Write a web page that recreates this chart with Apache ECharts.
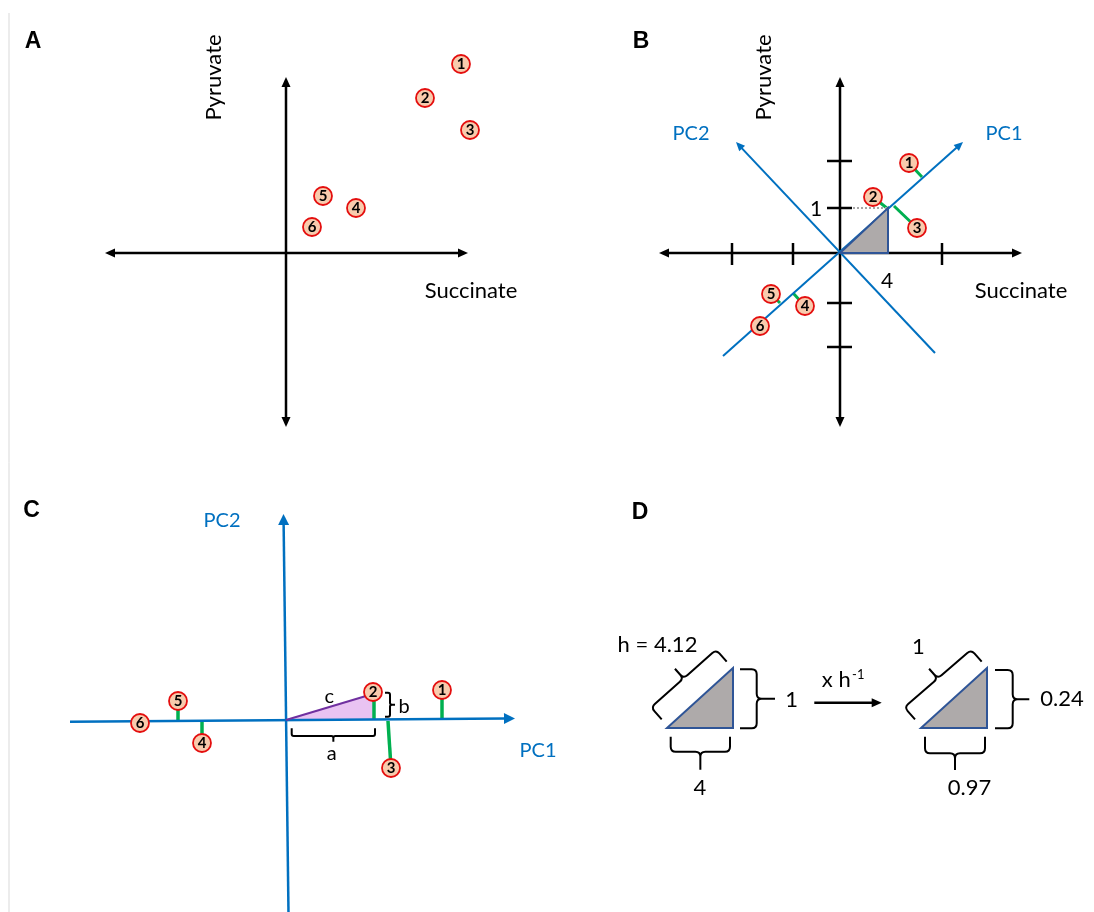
<!DOCTYPE html>
<html><head><meta charset="utf-8">
<script src="https://cdn.jsdelivr.net/npm/echarts@6/dist/echarts.min.js"></script>
<style>html,body{margin:0;padding:0;background:#fff}#c{width:1094px;height:912px}</style>
</head><body><div id="c"></div>
<script>
// ---------- data (schematic values, panel-local units, y up) ----------
const pointLabels = ['1','2','3','4','5','6'];
const panelLetters = ['A','B','C','D'];
const axisTitles = ['Succinate','Pyruvate'];
const pcTitles = ['PC1','PC2'];
// Panel A: raw data (Succinate, Pyruvate)
const aSuccinate = [175, 139, 184, 70, 37, 26];
const aPyruvate  = [189, 155, 123, 45, 57, 26];
// Panel B: centred data
const bSuccinate = [69, 33, 77, -35, -69, -80];
const bPyruvate  = [90, 56, 25, -53, -41, -73];
const bProjections = [[69,90,82,76],[33,56,48,44],[54,47,77,25],[-47,-40,-35,-53],[-69,-41,-60,-50]];
const bTicksSuccinate = [-108, -47, 102];
const bTicksPyruvate = [92, 45, -50, -94];
const bTickLabels = ['1','4'];
const bTriangle = [[0,0],[48,0],[48,45]];
// Panel C: scores on PC1 / PC2
const cPC1 = [156, 87, 105, -84, -108, -146];
const cPC2 = [30, 28, -48, -23, 19, -3];
const cProjections = [[156,30,156,2],[88,27,88,1],[102,-1,105,-48],[-84,-1,-84,-23],[-108,19,-108,0]];
const cTriangle = [[0,0],[80,24],[88,21],[88,0.5]];
const cSideLabels = ['a','b','c'];
// Panel D: triangles and their side lengths
const dLeftTriangle = [[0,0],[66,0],[66,60]];
const dRightTriangle = [[254,0],[320,0],[320,60]];
const dLeftLabels = ['h = 4.12','1','4'];
const dRightLabels = ['1','0.24','0.97'];
const dArrowLabel = ['x h','-1'];

// ---------- styles ----------
const FONT = 'Lato, "Open Sans", "DejaVu Sans", sans-serif';
const BOLD = '"Liberation Sans", Arial, sans-serif';
const BLACK='#000', BLUE='#0070c0', GREEN='#00b050', GREYFILL='#aeaaaa', NAVY='#2f5597', PURPLE='#7030a0', LILAC='#e9c3f2';

function L(pts, color, width, o){ return Object.assign({kind:'line', pts, color, width}, o||{}); }
function Poly(pts, fill, stroke, width){ return {kind:'poly', pts, fill, stroke, width}; }
function Brace(A,B,n,d,t,r,w){ return {kind:'brace', A,B,n,d,t,r, width:w||2}; }
function T(x,y,text,o){ return Object.assign({x,y,text}, o||{}); }

const unit = v => { const l = Math.hypot(v[0],v[1]) || 1; return [v[0]/l, v[1]/l]; };

function renderShape(it, api, idx){
  const z2 = idx*10;
  if (it.kind === 'line'){
    const P = it.pts.map(p => api.coord(p));
    const kids = [];
    const head = (tip, prev) => {
      const v = unit([tip[0]-prev[0], tip[1]-prev[1]]);
      const len = it.head[0], hw = it.head[1];
      const b = [tip[0]-v[0]*len, tip[1]-v[1]*len];
      const pp = [-v[1], v[0]];
      kids.push({type:'polygon', z2:z2+1, shape:{points:[tip,[b[0]+pp[0]*hw,b[1]+pp[1]*hw],[b[0]-pp[0]*hw,b[1]-pp[1]*hw]]}, style:{fill:it.color}});
      return [b[0]+v[0]*1, b[1]+v[1]*1];
    };
    if (it.end){ const n=P.length; P[n-1] = head(P[n-1], P[n-2]); }
    if (it.start){ P[0] = head(P[0], P[1]); }
    kids.push({type:'polyline', z2, shape:{points:P}, style:{stroke:it.color, lineWidth:it.width, lineDash:it.dash||null, fill:null, lineCap:'butt'}});
    return {type:'group', children:kids};
  }
  if (it.kind === 'poly'){
    const P = it.pts.map(p => api.coord(p));
    return {type:'polygon', z2, shape:{points:P}, style:{fill:it.fill, stroke:it.stroke||null, lineWidth:it.width||0, lineJoin:'miter'}};
  }
  if (it.kind === 'brace'){
    const {A,B,n,d,t,r} = it;
    const add=(p,s)=>[p[0]+n[0]*s, p[1]+n[1]*s];
    const M=[(A[0]+B[0])/2,(A[1]+B[1])/2];
    const a=api.coord(A), b=api.coord(B), a1=api.coord(add(A,d)), b1=api.coord(add(B,d)), m1=api.coord(add(M,d)), mt=api.coord(add(M,d+t));
    const u=unit([b1[0]-a1[0], b1[1]-a1[1]]);
    const nn=unit([a1[0]-a[0], a1[1]-a[1]]);
    const s=(p,v,k)=>[p[0]+v[0]*k, p[1]+v[1]*k];
    const P=p=>p[0].toFixed(2)+' '+p[1].toFixed(2);
    const path = 'M'+P(a)+' L'+P(s(a1,nn,-r))+' Q'+P(a1)+' '+P(s(a1,u,r))+' L'+P(s(m1,u,-r))+' Q'+P(m1)+' '+P(s(m1,nn,r))+' L'+P(mt)
      +' M'+P(s(m1,nn,r))+' Q'+P(m1)+' '+P(s(m1,u,r))+' L'+P(s(b1,u,-r))+' Q'+P(b1)+' '+P(s(b1,nn,-r))+' L'+P(b);
    return {type:'path', z2, shape:{pathData:path}, style:{stroke:BLACK, lineWidth:it.width, fill:null, lineJoin:'round'}};
  }
  return null;
}

function renderText(t, api){
  const p = api.coord([t.x, t.y]);
  return {type:'text', x:p[0], y:p[1], rotation:(t.rot||0)*Math.PI/180,
    style:{text:t.text, fill:t.color||BLACK, fontSize:t.size||22, fontFamily:t.bold?BOLD:FONT,
      fontWeight:t.bold?'bold':'normal', align:t.align||'center', verticalAlign:'middle'}};
}

// ---------- panels ----------
const AXH = [10,4.5];
const LET = 23;
const shapesA = [
  L([[-277,240],[-277,-659]], '#d9d9d9', 1),
  L([[-181,0],[182,0]], BLACK, 2.5, {start:true, end:true, head:AXH}),
  L([[0,176],[0,-174]], BLACK, 2.5, {start:true, end:true, head:AXH}),
];
const textsA = [
  T(-253,211,panelLetters[0],{bold:true,size:LET}),
  T(-72,175.5,axisTitles[1],{rot:90}),
  T(185,-37.7,axisTitles[0]),
];

const shapesB = [
  L([[-181,0],[182,0]], BLACK, 2.5, {start:true, end:true, head:AXH}),
  L([[0,176],[0,-174]], BLACK, 2.5, {start:true, end:true, head:AXH}),
  ...bTicksSuccinate.map(x => L([[x,10],[x,-12]], BLACK, 2.5)),
  ...bTicksPyruvate.map(y => L([[-13,y],[12,y]], BLACK, 2.5)),
  ...bProjections.map(g => L([[g[0],g[1]],[g[2],g[3]]], GREEN, 3)),
  L([[-117,-103],[123,111]], BLUE, 2, {end:true, head:[9,4]}),
  L([[95,-100],[-104,111]], BLUE, 2, {end:true, head:[9,4]}),
  L([[13,45],[47,45]], '#a6a6a6', 2, {dash:[2,2]}),
  Poly(bTriangle, GREYFILL, NAVY, 2),
];
const textsB = [
  T(-199,211,panelLetters[1],{bold:true,size:LET}),
  T(-76.5,175.5,axisTitles[1],{rot:90}),
  T(181,-37.7,axisTitles[0]),
  T(-149,119,pcTitles[1],{color:BLUE,size:20}),
  T(164,119,pcTitles[0],{color:BLUE,size:20}),
  T(-24,44,bTickLabels[0],{size:21}),
  T(47,-28,bTickLabels[1],{size:21}),
];

const shapesC = [
  Poly(cTriangle, LILAC, null, 0),
  ...cProjections.map(g => L([[g[0],g[1]],[g[2],g[3]]], GREEN, 3.5)),
  L([[-216,-1.7],[229,1.5]], BLUE, 2.5, {end:true, head:[11,5.5]}),
  L([[2.5,-192],[-2.5,206]], BLUE, 2.5, {end:true, head:[11,5.5]}),
  L([[0,0],[80,24]], PURPLE, 2),
  Brace([5.7,-8.3],[89,-8.3],[0,-1],7.7,5.7,2),
  Brace([99,27.3],[99,3.3],[1,0],5,5,2),
];
const textsC = [
  T(-254.5,209,panelLetters[2],{bold:true,size:LET}),
  T(-64,199,pcTitles[1],{color:BLUE,size:20}),
  T(252,-30.5,pcTitles[0],{color:BLUE,size:20}),
  T(45.7,-33.3,cSideLabels[0],{size:20}),
  T(118,13.3,cSideLabels[1],{size:20}),
  T(43.3,23.3,cSideLabels[2],{size:20}),
];

const HYP = [-0.664,0.749];
const shapesD = [
  Poly(dLeftTriangle, GREYFILL, NAVY, 2),
  Poly(dRightTriangle, GREYFILL, NAVY, 2),
  Brace([3.7,-8.7],[63,-8.7],[0,-1],15,18,5),
  Brace([73,58.7],[73,-0.3],[1,0],16.7,18.3,5),
  Brace([-5.3,8.7],[59.7,66.3],HYP,16,13,5),
  Brace([258,-8.7],[318,-8.7],[0,-1],16.6,16.7,5),
  Brace([328,58],[328,-0.3],[1,0],17.7,16.6,5),
  Brace([248,8.7],[314.7,66.3],HYP,16,13,5),
  L([[147.3,25.3],[214.7,25.3]], BLACK, 2.5, {end:true, head:[10,4.5]}),
];
const textsD = [
  T(-27,215.5,panelLetters[3],{bold:true,size:LET}),
  T(-9.5,82.7,dLeftLabels[0]),
  T(124.7,28,dLeftLabels[1]),
  T(33,-60.3,dLeftLabels[2]),
  T(169.3,48.5,dArrowLabel[0]),
  T(191.3,53,dArrowLabel[1],{size:13}),
  T(251.3,81.3,dRightLabels[0]),
  T(395,29,dRightLabels[1]),
  T(302.5,-60.3,dRightLabels[2]),
];

function pointsData(xs, ys){ return pointLabels.map((l,k)=>({name:l, value:[xs[k], ys[k]]})); }

const panels = [
  {left:0, top:0, w:547, h:456, ox:286, oy:253, shapes:shapesA, texts:textsA, pts:pointsData(aSuccinate,aPyruvate)},
  {left:547, top:0, w:547, h:456, ox:840, oy:253, shapes:shapesB, texts:textsB, pts:pointsData(bSuccinate,bPyruvate)},
  {left:0, top:456, w:547, h:456, ox:286, oy:720, shapes:shapesC, texts:textsC, pts:pointsData(cPC1,cPC2)},
  {left:547, top:456, w:547, h:456, ox:667, oy:728, shapes:shapesD, texts:textsD, pts:null},
];

const series = [];
panels.forEach((p,i) => {
  series.push({type:'custom', coordinateSystem:'cartesian2d', xAxisIndex:i, yAxisIndex:i, z:2, silent:true, clip:false,
    data:p.shapes.map(()=>[0,0]), renderItem:(prm,api)=>renderShape(p.shapes[prm.dataIndex], api, prm.dataIndex)});
  if (p.pts) series.push({type:'scatter', xAxisIndex:i, yAxisIndex:i, z:3, silent:true, clip:false,
    symbol:'circle', symbolSize:18, data:p.pts,
    itemStyle:{color:'#f8cbad', borderColor:'#e40e0e', borderWidth:1.8, opacity:1},
    label:{show:true, position:'inside', formatter:'{b}', color:'#000', fontWeight:'bold', fontSize:15, fontFamily:FONT},
    emphasis:{disabled:true}});
  series.push({type:'custom', coordinateSystem:'cartesian2d', xAxisIndex:i, yAxisIndex:i, z:4, silent:true, clip:false,
    data:p.texts.map(()=>[0,0]), renderItem:(prm,api)=>renderText(p.texts[prm.dataIndex], api)});
});

const chart = echarts.init(document.getElementById('c'), null, {renderer:'canvas'});
chart.setOption({
  animation:false,
  backgroundColor:'#fff',
  grid: panels.map(p => ({left:p.left, top:p.top, width:p.w, height:p.h, containLabel:false, outerBoundsMode:'none'})),
  xAxis: panels.map((p,i) => ({type:'value', gridIndex:i, min:p.left-p.ox, max:p.left+p.w-p.ox, show:false, splitLine:{show:false}})),
  yAxis: panels.map((p,i) => ({type:'value', gridIndex:i, min:p.oy-(p.top+p.h), max:p.oy-p.top, show:false, splitLine:{show:false}})),
  tooltip:{show:false},
  series
});
</script></body></html>
